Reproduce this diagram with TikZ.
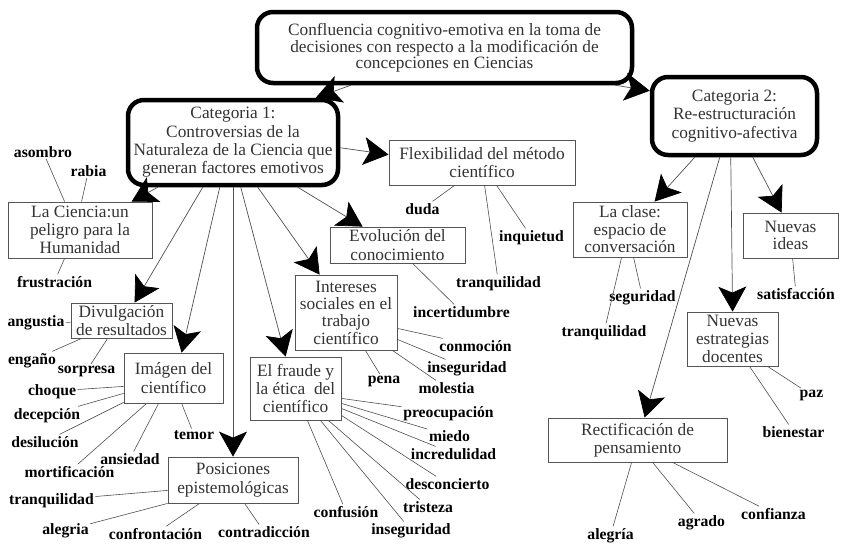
\documentclass[tikz,border=0pt]{standalone}
\usepackage{fontspec}
\setmainfont{LiberationSerif}[Extension=.ttf, UprightFont=*-Regular, BoldFont=*-Bold, ItalicFont=*-Italic, BoldItalicFont=*-BoldItalic]
\usetikzlibrary{arrows.meta}
\definecolor{boxline}{HTML}{555555}
\definecolor{boxtext}{HTML}{333333}
\definecolor{conn}{HTML}{505050}
\tikzset{
  bx/.style={draw=boxline, line width=0.8pt, text=boxtext, align=center, inner sep=0pt,
    font=\fontsize{17.3}{18.3}\selectfont},
  bigbox/.style={draw=black, line width=4.5pt, rounded corners=16pt, text=boxtext, align=center,
    inner sep=0pt, font=\fontsize{17.3}{18.3}\selectfont},
  lbl/.style={inner sep=1.5pt, anchor=base, font=\bfseries\fontsize{15.7}{18}\selectfont},
  arr/.style={draw=conn, line width=0.7pt, -{Stealth[length=25pt,width=28pt,inset=6pt,color=black]}},
  lk/.style={draw=conn, line width=0.6pt},
}
\begin{document}
\begin{tikzpicture}[x=1pt,y=-1pt]
\useasboundingbox[fill=white] (0,0) rectangle (841,544);

% main boxes
\node[bigbox, minimum width=375pt, minimum height=71pt, font=\fontsize{17.3}{15}\selectfont] (main) at (444.5,47.5)
  {Confluencia cognitivo-emotiva en la toma de\\decisiones con respecto a la modificación de\\concepciones en Ciencias};
\node[bigbox, minimum width=210pt, minimum height=85pt] (cat1) at (233,142.5)
  {Categoria 1:\\Controversias de la\\Naturaleza de la Ciencia que\\generan factores emotivos};
\node[bigbox, minimum width=165pt, minimum height=78pt] (cat2) at (734.5,116)
  {Categoria 2:\\Re-estructuración\\cognitivo-afectiva};

% concept boxes
\node[bx, minimum width=144pt, minimum height=56pt] (ciencia) at (80,230) {La Ciencia:un\\peligro para la\\Humanidad};
\node[bx, minimum width=186pt, minimum height=45pt] (flex) at (482,162.5) {Flexibilidad del método\\científico};
\node[bx, minimum width=135pt, minimum height=36pt] (evol) at (397.5,245) {Evolución del\\conocimiento};
\node[bx, minimum width=102pt, minimum height=75pt, font=\fontsize{17.3}{17.3}\selectfont] (inter) at (346,312.5) {Intereses\\sociales en el\\trabajo\\científico};
\node[bx, minimum width=91pt, minimum height=63pt] (fraude) at (295.5,388.5) {El fraude y\\la ética\ \ del\\científico};
\node[bx, minimum width=101pt, minimum height=35pt] (divul) at (121.5,320.5) {Divulgación\\de resultados};
\node[bx, minimum width=99pt, minimum height=50pt] (imagen) at (173.5,378) {Imágen del\\científico};
\node[bx, minimum width=130pt, minimum height=46pt] (posic) at (233,480) {Posiciones\\epistemológicas};
\node[bx, minimum width=114pt, minimum height=55pt, font=\fontsize{17.3}{17.5}\selectfont] (clase) at (630,229.5) {La clase:\\espacio de\\conversación};
\node[bx, minimum width=95pt, minimum height=45pt, font=\fontsize{17.3}{16.5}\selectfont] (ideas) at (790.5,235.5) {Nuevas\\ideas};
\node[bx, minimum width=91pt, minimum height=54pt] (estrat) at (732.5,339) {Nuevas\\estrategias\\docentes};
\node[bx, minimum width=179pt, minimum height=44pt] (rectif) at (637.5,440) {Rectificación de\\pensamiento};

% arrows
\draw[arr] ([xshift=96pt]main.south west) -- ([xshift=190pt]cat1.north west);
\draw[arr] ([xshift=-19pt]main.south east) -- ([yshift=-16pt]cat2.north west);
\draw[arr] ([xshift=32pt]cat1.south west) -- ([xshift=124pt]ciencia.north west);
\draw[arr] ([yshift=-50pt]cat1.north east) -- ([yshift=-15pt]flex.north west);
\draw[arr] ([xshift=172pt]cat1.south west) -- ([xshift=33pt]evol.north west);
\draw[arr] ([xshift=132pt]cat1.south west) -- ([xshift=25pt]inter.north west);
\draw[arr] ([xshift=115pt]cat1.south west) -- ([xshift=36pt]fraude.north west);
\draw[arr] (cat1.south) -- (posic.north);
\draw[arr] ([xshift=94pt]cat1.south west) -- ([xshift=58pt]imagen.north west);
\draw[arr] ([xshift=77pt]cat1.south west) -- ([xshift=64pt]divul.north west);
\draw[arr] ([xshift=45pt]cat2.south west) -- ([xshift=82pt]clase.north west);
\draw[arr] ([xshift=103pt]cat2.south west) -- ([xshift=39pt]ideas.north west);
\draw[arr] ([xshift=81pt]cat2.south west) -- ([xshift=46pt]estrat.north west);
\draw[arr] ([xshift=70pt]cat2.south west) -- ([xshift=97pt]rectif.north west);

% labels
\node[lbl] (asombro) at (43,157) {asombro};
\node[lbl] (rabia) at (88.5,176) {rabia};
\node[lbl] (frustra) at (54.5,287) {frustración};
\node[lbl] (duda) at (422.5,214) {duda};
\node[lbl] (inquiet) at (531.5,241) {inquietud};
\node[lbl] (tranqA) at (498.5,287) {tranquilidad};
\node[lbl] (incert) at (461.5,317) {incertidumbre};
\node[lbl] (conmoc) at (475.5,351) {conmoción};
\node[lbl] (insegA) at (467,372) {inseguridad};
\node[lbl] (molest) at (446.5,393) {molestia};
\node[lbl] (pena) at (384,383) {pena};
\node[lbl] (preoc) at (448.5,417) {preocupación};
\node[lbl] (miedo) at (449.5,441) {miedo};
\node[lbl] (incred) at (453.5,459) {incredulidad};
\node[lbl] (descon) at (447.5,489) {desconcierto};
\node[lbl] (triste) at (428,512) {tristeza};
\node[lbl] (insegB) at (411,534) {inseguridad};
\node[lbl] (confus) at (346,517) {confusión};
\node[lbl] (contrad) at (264,537) {contradicción};
\node[lbl] (confront) at (155.5,539) {confrontación};
\node[lbl] (alegA) at (65.5,534) {alegria};
\node[lbl] (tranqB) at (51.5,504) {tranquilidad};
\node[lbl] (choque) at (52,395) {choque};
\node[lbl] (decep) at (47,419) {decepción};
\node[lbl] (desil) at (45,447) {desilución};
\node[lbl] (mortif) at (69.5,477) {mortificación};
\node[lbl] (ansied) at (130,464) {ansiedad};
\node[lbl] (temor) at (194,439) {temor};
\node[lbl] (angust) at (36,326) {angustia};
\node[lbl] (engano) at (32,364) {engaño};
\node[lbl] (sorpre) at (86.5,373) {sorpresa};
\node[lbl] (segur) at (642.5,301) {seguridad};
\node[lbl] (tranqC) at (604,336) {tranquilidad};
\node[lbl] (satisf) at (796,299) {satisfacción};
\node[lbl] (paz) at (811.5,397) {paz};
\node[lbl] (bienes) at (793.5,437) {bienestar};
\node[lbl] (alegB) at (610.5,539) {alegría};
\node[lbl] (agrado) at (701.5,526) {agrado};
\node[lbl] (confian) at (773.5,519) {confianza};

% label links
\draw[lk] ([xshift=57pt]ciencia.north west) -- (asombro);
\draw[lk] ([xshift=74pt]ciencia.north west) -- (rabia);
\draw[lk] ([xshift=57pt]ciencia.south west) -- (frustra);
\draw[lk] ([xshift=66pt]flex.south west) -- (duda);
\draw[lk] ([xshift=96pt]flex.south west) -- (tranqA);
\draw[lk] ([xshift=108pt]flex.south west) -- (inquiet);
\draw[lk] ([xshift=83pt]evol.south west) -- (incert);
\draw[lk] ([yshift=22pt]inter.south east) -- (conmoc);
\draw[lk] ([yshift=11pt]inter.south east) -- (insegA);
\draw[lk] ([xshift=-5pt]inter.south east) -- (molest);
\draw[lk] ([xshift=-32pt]inter.south east) -- (pena);
\draw[lk] ([yshift=22pt]fraude.south east) -- (preoc);
\draw[lk] ([yshift=17pt]fraude.south east) -- (miedo);
\draw[lk] ([yshift=12pt]fraude.south east) -- (incred);
\draw[lk] ([yshift=5pt]fraude.south east) -- (descon);
\draw[lk] ([xshift=-13pt]fraude.south east) -- (triste);
\draw[lk] ([xshift=-21pt]fraude.south east) -- (insegB);
\draw[lk] ([xshift=-34pt]fraude.south east) -- (confus);
\draw[lk] ([yshift=13pt]posic.south west) -- (tranqB);
\draw[lk] (posic.south west) -- (alegA);
\draw[lk] ([xshift=32pt]posic.south west) -- (confront);
\draw[lk] ([xshift=77pt]posic.south west) -- (contrad);
\draw[lk] ([yshift=17pt]imagen.south west) -- (choque);
\draw[lk] ([yshift=10pt]imagen.south west) -- (decep);
\draw[lk] ([yshift=1pt]imagen.south west) -- (desil);
\draw[lk] ([xshift=23pt]imagen.south west) -- (mortif);
\draw[lk] ([xshift=35pt]imagen.south west) -- (ansied);
\draw[lk] ([xshift=58pt]imagen.south west) -- (temor);
\draw[lk] ([yshift=16pt]divul.south west) -- (angust);
\draw[lk] ([xshift=11pt]divul.south west) -- (engano);
\draw[lk] ([xshift=37pt]divul.south west) -- (sorpre);
\draw[lk] ([xshift=49pt]clase.south west) -- (tranqC);
\draw[lk] ([xshift=61pt]clase.south west) -- (segur);
\draw[lk] ([xshift=50pt]ideas.south west) -- (satisf);
\draw[lk] ([xshift=63pt]estrat.south west) -- (bienes);
\draw[lk] ([xshift=81pt]estrat.south west) -- (paz);
\draw[lk] ([xshift=84pt]rectif.south west) -- (alegB);
\draw[lk] ([xshift=105pt]rectif.south west) -- (agrado);
\draw[lk] ([xshift=125pt]rectif.south west) -- (confian);
\end{tikzpicture}
\end{document}
